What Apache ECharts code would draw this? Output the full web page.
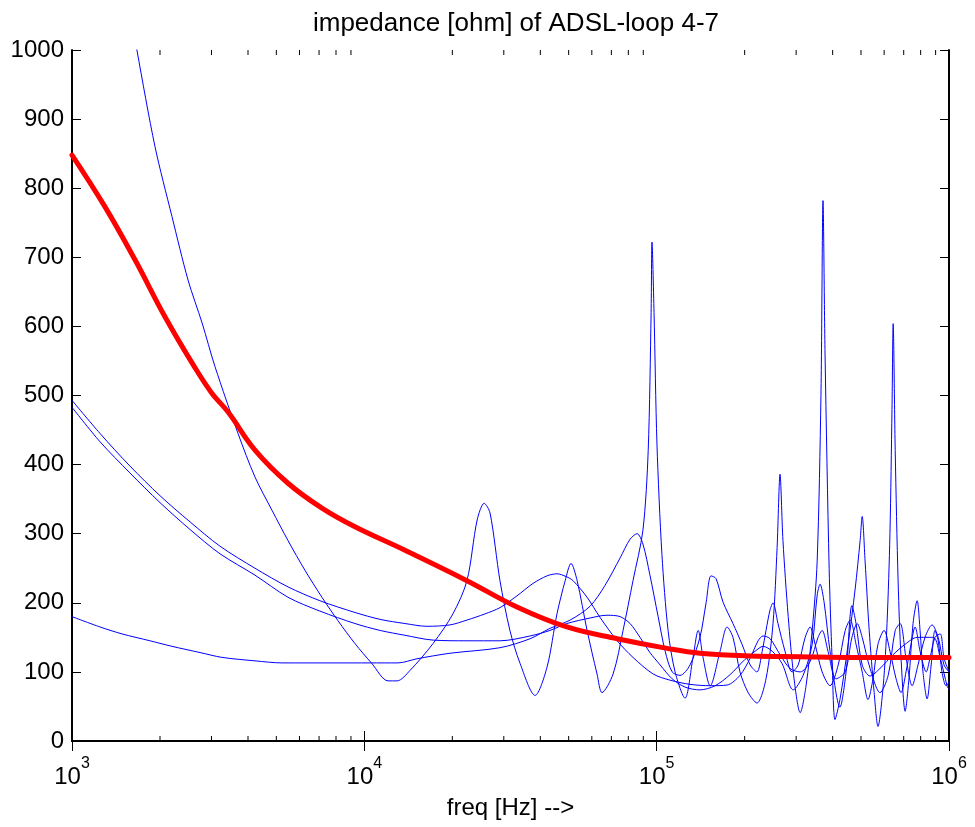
<!DOCTYPE html>
<html>
<head>
<meta charset="utf-8">
<title>impedance [ohm] of ADSL-loop 4-7</title>
<script src="https://cdn.jsdelivr.net/npm/echarts@6/dist/echarts.min.js"></script>
<style>
    html, body { margin: 0; padding: 0; background: #fff; }
    #chart { width: 975px; height: 827px; }
</style>
</head>
<body>
<div id="chart"></div>
<script>

// thick red curve
const redDec = [3.000, 3.113, 3.216, 3.318, 3.421, 3.479, 3.534, 3.626, 3.739, 3.855, 3.968,
    4.139, 4.351, 4.522, 4.693, 4.865, 5.036, 5.148, 5.320, 5.491, 5.662, 6.000];
const redOhm = [848, 773, 696, 614, 540, 503, 476, 421, 373, 337, 310,
    276, 232, 194, 165, 148, 134, 127, 123, 122, 121, 121];

// loop with the big resonances (comes in from the top)
const loopADec = [3.181, 3.222, 3.284, 3.342, 3.397, 3.445, 3.489, 3.568, 3.626, 3.684, 3.739, 3.797,
    3.855, 3.910, 3.968, 4.026, 4.081, 4.112, 4.156, 4.235, 4.303, 4.351, 4.386, 4.410, 4.430, 4.464,
    4.498, 4.533, 4.584, 4.625, 4.659, 4.687, 4.707, 4.728, 4.762, 4.796, 4.813, 4.851, 4.885, 4.919,
    4.953, 4.971, 4.981, 4.984, 4.991, 5.001, 5.018, 5.039, 5.063, 5.097, 5.124, 5.142, 5.159, 5.183,
    5.217, 5.241, 5.261, 5.285, 5.313, 5.343, 5.374, 5.398, 5.412, 5.422, 5.432, 5.450, 5.470, 5.491,
    5.511, 5.532, 5.549, 5.562, 5.569, 5.576, 5.590, 5.600, 5.610, 5.627, 5.655, 5.679, 5.696, 5.703,
    5.713, 5.727, 5.744, 5.757, 5.775, 5.788, 5.798, 5.805, 5.809, 5.816, 5.826, 5.836, 5.850, 5.863,
    5.877, 5.891, 5.901, 5.911, 5.925, 5.939, 5.952, 5.963, 5.976, 5.990, 6.000];
const loopAOhm = [1100, 1000, 860, 759, 667, 605, 542, 445, 382, 334, 290, 247,
    208, 174, 141, 112, 87, 87, 102, 141, 184, 232, 320, 344, 330, 232,
    160, 112, 66, 107, 184, 232, 257, 232, 160, 97, 70, 97, 160, 232,
    305, 420, 620, 722, 620, 430, 270, 160, 100, 62, 120, 160, 120, 80,
    130, 165, 150, 100, 70, 55, 90, 170, 280, 386, 290, 180, 90, 41,
    80, 160, 260, 500, 782, 560, 250, 120, 31, 60, 140, 220, 290, 325,
    260, 160, 70, 21, 80, 170, 300, 480, 604, 420, 230, 120, 43, 90,
    170, 203, 160, 100, 61, 110, 160, 145, 100, 80, 85];

// upper of the two curves starting near 490
const loopBDec = [3.000, 3.096, 3.198, 3.301, 3.404, 3.506, 3.626, 3.739, 3.848, 3.968,
    4.054, 4.139, 4.214, 4.293, 4.351, 4.413, 4.464, 4.522, 4.577, 4.625,
    4.659, 4.690, 4.714, 4.762, 4.806, 4.865, 4.919, 4.988, 5.046, 5.114,
    5.183, 5.241, 5.285, 5.320, 5.347, 5.364, 5.388, 5.422, 5.456, 5.491,
    5.525, 5.552, 5.566, 5.586, 5.614, 5.645, 5.668, 5.686, 5.703, 5.730,
    5.764, 5.792, 5.816, 5.833, 5.853, 5.874, 5.894, 5.918, 5.942, 5.963,
    5.983, 6.000];
const loopBOhm = [493, 445, 398, 355, 317, 282, 250, 223, 203, 186,
    176, 170, 166, 168, 175, 184, 193, 210, 228, 239,
    242, 238, 232, 208, 179, 145, 121, 97, 88, 82,
    80, 81, 95, 120, 145, 152, 148, 125, 105, 100,
    115, 150, 160, 130, 90, 100, 150, 170, 150, 105,
    70, 95, 160, 170, 120, 80, 110, 150, 168, 150,
    110, 100];

// lower of the two curves starting near 490
const loopCDec = [3.000, 3.096, 3.198, 3.301, 3.404, 3.506, 3.626, 3.739, 3.848, 3.968,
    4.054, 4.139, 4.235, 4.351, 4.464, 4.567, 4.635, 4.693, 4.772, 4.830,
    4.875, 4.909, 4.943, 4.977, 5.012, 5.053, 5.097, 5.148, 5.200, 5.251,
    5.302, 5.337, 5.364, 5.395, 5.429, 5.467, 5.501, 5.532, 5.549, 5.559,
    5.573, 5.593, 5.627, 5.648, 5.668, 5.682, 5.703, 5.730, 5.764, 5.809,
    5.850, 5.891, 5.946, 5.970, 5.994, 6.000];
const loopCOhm = [483, 433, 388, 345, 306, 271, 240, 208, 188, 170,
    160, 153, 146, 145, 145, 152, 160, 170, 178, 182,
    180, 170, 150, 128, 110, 90, 78, 74, 80, 96,
    118, 130, 137, 130, 112, 74, 95, 140, 211, 227,
    200, 130, 49, 100, 196, 170, 110, 94, 105, 125,
    140, 150, 150, 120, 79, 75];

// curve starting near 180, flat around 113
const loopDDec = [3.000, 3.096, 3.171, 3.267, 3.342, 3.438, 3.513, 3.626, 3.718, 3.917,
    4.115, 4.180, 4.293, 4.464, 4.567, 4.635, 4.704, 4.772, 4.823, 4.875,
    4.909, 4.933, 4.953, 4.977, 5.005, 5.029, 5.053, 5.080, 5.114, 5.148,
    5.169, 5.186, 5.203, 5.227, 5.261, 5.292, 5.320, 5.343, 5.361, 5.374,
    5.388, 5.398, 5.415, 5.439, 5.463, 5.484, 5.508, 5.525, 5.542, 5.566,
    5.593, 5.621, 5.645, 5.662, 5.682, 5.703, 5.723, 5.740, 5.757, 5.778,
    5.798, 5.819, 5.836, 5.853, 5.870, 5.884, 5.901, 5.922, 5.935, 5.952,
    5.970, 5.983, 6.000];
const loopDOhm = [180, 165, 155, 145, 137, 128, 121, 116, 113, 113,
    113, 119, 127, 135, 148, 163, 175, 195, 225, 265,
    292, 300, 285, 240, 180, 130, 100, 95, 110, 150,
    200, 239, 235, 201, 170, 140, 110, 100, 130, 160,
    190, 200, 170, 130, 100, 110, 150, 165, 140, 100,
    80, 110, 160, 175, 140, 100, 60, 90, 140, 160,
    130, 90, 70, 100, 140, 165, 130, 100, 120, 150,
    155, 120, 100];

const minorTickHz = [2e3, 3e3, 4e3, 5e3, 6e3, 7e3, 8e3, 9e3,
    2e4, 3e4, 4e4, 5e4, 6e4, 7e4, 8e4, 9e4,
    2e5, 3e5, 4e5, 5e5, 6e5, 7e5, 8e5, 9e5];

const fontName = "Liberation Sans";

const toPairs = (dec, ohm) => dec.map((d, i) => [Math.pow(10, d), ohm[i]]);

const blueLine = (name, dec, ohm) => ({
    name: name,
    type: "line",
    data: toPairs(dec, ohm),
    showSymbol: false,
    clip: true,
    smooth: 0.3,
    lineStyle: { color: "#0000ff", width: 1 },
    itemStyle: { color: "#0000ff" },
    z: 2
});

const chart = echarts.init(document.getElementById("chart"));

const option = {
    animation: false,
    backgroundColor: "#fff",
    textStyle: { fontFamily: fontName },
    title: {
        text: "impedance [ohm] of ADSL-loop 4-7",
        left: 511,
        textAlign: "center",
        top: 6,
        textStyle: { fontFamily: fontName, fontSize: 26, fontWeight: "normal", color: "#000" }
    },
    grid: { left: 72, right: 26, top: 50, bottom: 86 },
    xAxis: [
        {
            type: "log",
            logBase: 10,
            min: 1e3,
            max: 1e6,
            position: "bottom",
            name: "freq [Hz] -->",
            nameLocation: "middle",
            nameGap: 55,
            nameTextStyle: { fontFamily: fontName, fontSize: 24, color: "#000" },
            axisLine: { show: true, lineStyle: { color: "#000", width: 2 } },
            axisTick: { show: true, inside: true, length: 10, lineStyle: { color: "#000", width: 1 } },
            splitLine: { show: false },
            axisLabel: {
                margin: 15,
                color: "#000",
                formatter: v => "{b|10}{s|" + Math.round(Math.log10(v)) + "}",
                rich: {
                    b: { fontFamily: fontName, fontSize: 24, color: "#000", verticalAlign: "bottom" },
                    s: { fontFamily: fontName, fontSize: 16, color: "#000", verticalAlign: "bottom", padding: [0, 0, 17, 0] }
                }
            }
        },
        {
            type: "log",
            logBase: 10,
            min: 1e3,
            max: 1e6,
            position: "top",
            axisLine: { show: true, lineStyle: { color: "#000", width: 2 } },
            axisTick: { show: true, inside: true, length: 10, lineStyle: { color: "#000", width: 1 } },
            axisLabel: { show: false },
            splitLine: { show: false }
        }
    ],
    yAxis: [
        {
            type: "value",
            min: 0,
            max: 1000,
            interval: 100,
            position: "left",
            axisLine: { show: true, lineStyle: { color: "#000", width: 2 } },
            axisTick: { show: true, inside: true, length: 9, lineStyle: { color: "#000", width: 1 } },
            splitLine: { show: false },
            axisLabel: {
                margin: 8,
                color: "#000",
                fontFamily: fontName,
                fontSize: 24,
                formatter: v => String(v)
            }
        },
        {
            type: "value",
            min: 0,
            max: 1000,
            interval: 100,
            position: "right",
            axisLine: { show: true, lineStyle: { color: "#000", width: 2 } },
            axisTick: { show: true, inside: true, length: 9, lineStyle: { color: "#000", width: 1 } },
            splitLine: { show: false },
            axisLabel: { show: false }
        }
    ],
    series: [
        blueLine("loop A", loopADec, loopAOhm),
        blueLine("loop B", loopBDec, loopBOhm),
        blueLine("loop C", loopCDec, loopCOhm),
        blueLine("loop D", loopDDec, loopDOhm),
        {
            name: "red",
            type: "line",
            data: toPairs(redDec, redOhm),
            showSymbol: false,
            clip: true,
            smooth: 0.4,
            lineStyle: { color: "#ff0000", width: 5, cap: "round", join: "round" },
            itemStyle: { color: "#ff0000" },
            z: 3
        },
        {
            // minor log ticks on bottom and top edges
            name: "minor ticks",
            type: "custom",
            silent: true,
            data: minorTickHz.map(f => [f, 0]),
            renderItem: (params, api) => {
                const f = api.value(0);
                const bot = api.coord([f, 0]);
                const top = api.coord([f, 1000]);
                return {
                    type: "group",
                    children: [
                        { type: "line", shape: { x1: bot[0], y1: bot[1], x2: bot[0], y2: bot[1] - 5 }, style: { stroke: "#000", lineWidth: 1 } },
                        { type: "line", shape: { x1: top[0], y1: top[1], x2: top[0], y2: top[1] + 5 }, style: { stroke: "#000", lineWidth: 1 } }
                    ]
                };
            },
            z: 4
        }
    ]
};

chart.setOption(option);
</script>
</body>
</html>
